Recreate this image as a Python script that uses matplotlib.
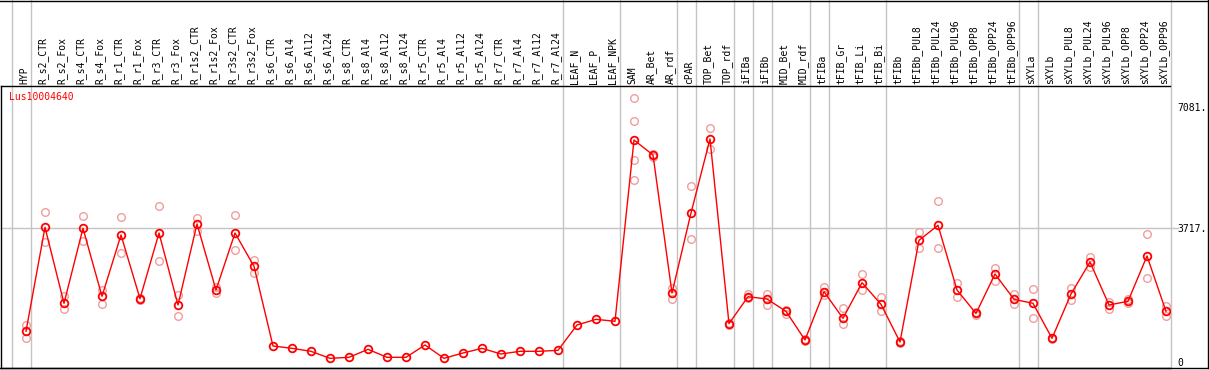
import matplotlib
matplotlib.use("Agg")
import matplotlib.pyplot as plt
import matplotlib.transforms as mtransforms
from matplotlib.lines import Line2D

# sample names, left to right
samples = [
    "HYP", "R_s2_CTR", "R_s2_Fox", "R_s4_CTR", "R_s4_Fox", "R_r1_CTR", "R_r1_Fox",
    "R_r3_CTR", "R_r3_Fox", "R_r1s2_CTR", "R_r1s2_Fox", "R_r3s2_CTR", "R_r3s2_Fox",
    "R_s6_CTR", "R_s6_Al4", "R_s6_Al12", "R_s6_Al24", "R_s8_CTR", "R_s8_Al4",
    "R_s8_Al12", "R_s8_Al24", "R_r5_CTR", "R_r5_Al4", "R_r5_Al12", "R_r5_Al24",
    "R_r7_CTR", "R_r7_Al4", "R_r7_Al12", "R_r7_Al24", "LEAF_N", "LEAF_P", "LEAF_NPK",
    "SAM", "AR_Bet", "AR_rdf", "cPAR", "TOP_Bet", "TOP_rdf", "iFIBa", "iFIBb",
    "MID_Bet", "MID_rdf", "tFIBa", "tFIB_Gr", "tFIB_Li", "tFIB_Bi", "tFIBb",
    "tFIBb_PUL8", "tFIBb_PUL24", "tFIBb_PUL96", "tFIBb_OPP8", "tFIBb_OPP24",
    "tFIBb_OPP96", "sXYLa", "sXYLb", "sXYLb_PUL8", "sXYLb_PUL24", "sXYLb_PUL96",
    "sXYLb_OPP8", "sXYLb_OPP24", "sXYLb_OPP96",
]

# mean expression per sample
means = [
    853, 3745, 1631, 3717, 1826, 3531, 1761, 3586, 1585, 3837, 2002, 3586, 2660,
    445, 380, 297, 102, 130, 352, 130, 130, 473, 102, 250, 380, 222, 297, 297, 324,
    1029, 1186, 1131,
    6172, 5755, 1918, 4142, 6200, 1066, 1815, 1751, 1408, 612,
    1955, 1214, 2205, 1603, 556, 3383, 3800, 2002, 1350, 2447, 1743,
    1631, 658, 1890, 2780, 1585, 1687, 2947, 1408,
]

# individual replicates (pink circles)
replicates = [
    [1029, 658], [4161, 3327], [1835, 1464], [4050, 3355], [2002, 1622],
    [4022, 3021], [1790, 1735], [4328, 2799], [1863, 1279], [4003, 3651],
    [2076, 1928], [4078, 3105], [2836, 2466],
    [], [], [], [], [], [], [], [], [], [], [], [], [], [], [], [],
    [], [], [],
    [7331, 6700, 5616, 5051], [5783, 5690], [2066, 1743], [4893, 3411],
    [6505, 5913], [1090, 1040], [1881, 1790], [1900, 1594], [1440, 1343],
    [630, 595], [2085, 1863], [1492, 1066], [2438, 2011], [1798, 1427],
    [575, 540], [3614, 3160], [4467, 3160], [2187, 1807], [1380, 1320],
    [2622, 2243], [1900, 1603], [2029, 1214], [680, 640], [2048, 1733],
    [2919, 2641], [1668, 1464], [1740, 1650], [3550, 2327], [1548, 1279],
]

# last sample index of each tissue group
group_ends = [-1, 0, 28, 31, 34, 35, 37, 38, 39, 41, 42, 45, 52, 53, 60]

yticks = [0, 3717, 7081]
ytick_labels = ["0", "3717.", "7081."]
gene = "Lus10004640"

W, H = 1209, 370
fig = plt.figure(figsize=(W / 100, H / 100), dpi=100)
ax = fig.add_axes([1 / W, (H - 368) / H, 1169 / W, 282 / H])

x = list(range(len(samples)))
ax.set_xlim((1 - 26) / 19, (1170 - 26) / 19)
ax.set_ylim(-167, 7673)

gray = "#c4c4c4"
trans = ax.get_xaxis_transform()
for g in group_ends:
    ax.plot([g + 0.24, g + 0.24], [0, 1 + 86 / 282], color=gray, lw=1,
            transform=trans, clip_on=False, zorder=0)
ax.axhline(3717, xmin=0, xmax=1177 / 1169, color=gray, lw=1, zorder=0, clip_on=False)

rx = [i for i, reps in enumerate(replicates) for _ in reps]
ry = [v for reps in replicates for v in reps]
ax.plot(rx, ry, linestyle="none", marker="o", ms=5.5, mfc="none",
        mec="#ef9e9e", mew=1.0, zorder=2)
ax.plot(x, means, color="red", lw=1, marker="o", ms=5.5, mfc="none",
        mec="red", mew=1.3, zorder=3)

# sample names on top
ax.xaxis.tick_top()
ax.set_xticks(x)
ax.set_xticklabels(samples, rotation=90, fontsize=7, family="DejaVu Sans Mono")
ax.tick_params(axis="x", length=0, pad=1.5)
shift = mtransforms.ScaledTranslation(-2 / 100, 0, fig.dpi_scale_trans)
for lbl in ax.get_xticklabels():
    lbl.set_transform(lbl.get_transform() + shift)

ax.yaxis.tick_right()
ax.set_yticks(yticks)
ax.set_yticklabels(ytick_labels, fontsize=7, family="DejaVu Sans Mono")
ax.tick_params(axis="y", length=0, pad=5.5)

for s in ["top", "left", "bottom"]:
    ax.spines[s].set_color("black")
    ax.spines[s].set_linewidth(1)
ax.spines["right"].set_visible(False)

ax.text(8.5 / 1169, 1 - 11 / 282, gene, color="red", fontsize=7,
        family="DejaVu Sans Mono", ha="left", va="center", transform=ax.transAxes)

# outer frame
fig.add_artist(Line2D([0, 1], [1 - 0.5 / H, 1 - 0.5 / H], color="black", lw=1))
fig.add_artist(Line2D([1 - 1 / W, 1 - 1 / W], [(H - 368) / H, 1], color="black", lw=1))
fig.add_artist(Line2D([0, 1], [(H - 368) / H, (H - 368) / H], color="black", lw=1))

fig.savefig("out.png", dpi=100)
